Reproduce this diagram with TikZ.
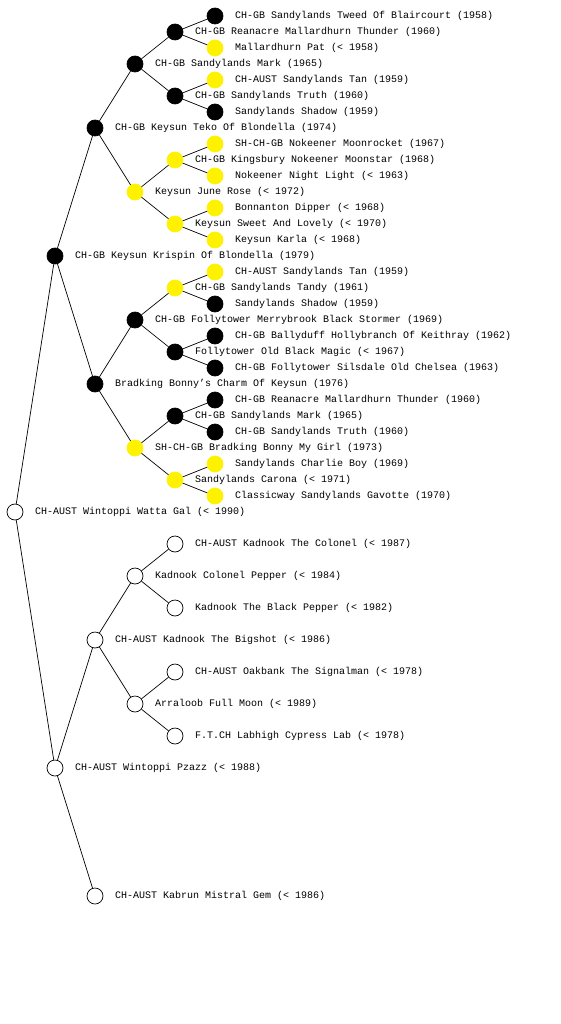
\documentclass[tikz,border=0pt]{standalone}
\usepackage{fontspec}
\newfontfamily\lbfont{Liberation Mono}
\begin{document}
\begin{tikzpicture}[x=1pt,y=-1pt,
  pn/.style={circle,draw=black,line width=0.7pt,minimum size=16pt,inner sep=0pt,fill=white},
  blk/.style={pn,fill=black},
  ylw/.style={pn,fill=yellow,draw=yellow},
  wht/.style={pn},
  lbl/.style={anchor=west,inner sep=0pt,font=\lbfont\fontsize{10pt}{12pt}\selectfont},
  edge/.style={line width=0.7pt,black}]
\useasboundingbox (0,0) rectangle (560,1024);
% generation 0
\node[wht] (n1) at (15,512) {};
% generation 1
\node[blk] (n2) at (55,256) {};
\node[wht] (n3) at (55,768) {};
% generation 2
\node[blk] (n4) at (95,128) {};
\node[blk] (n5) at (95,384) {};
\node[wht] (n6) at (95,640) {};
\node[wht] (n7) at (95,896) {};
% generation 3
\node[blk] (n8) at (135,64) {};
\node[ylw] (n9) at (135,192) {};
\node[blk] (n10) at (135,320) {};
\node[ylw] (n11) at (135,448) {};
\node[wht] (n12) at (135,576) {};
\node[wht] (n13) at (135,704) {};
% generation 4
\node[blk] (n16) at (175,32) {};
\node[blk] (n17) at (175,96) {};
\node[ylw] (n18) at (175,160) {};
\node[ylw] (n19) at (175,224) {};
\node[ylw] (n20) at (175,288) {};
\node[blk] (n21) at (175,352) {};
\node[blk] (n22) at (175,416) {};
\node[ylw] (n23) at (175,480) {};
\node[wht] (n24) at (175,544) {};
\node[wht] (n25) at (175,608) {};
\node[wht] (n26) at (175,672) {};
\node[wht] (n27) at (175,736) {};
% generation 5
\node[blk] (n32) at (215,16) {};
\node[ylw] (n33) at (215,48) {};
\node[ylw] (n34) at (215,80) {};
\node[blk] (n35) at (215,112) {};
\node[ylw] (n36) at (215,144) {};
\node[ylw] (n37) at (215,176) {};
\node[ylw] (n38) at (215,208) {};
\node[ylw] (n39) at (215,240) {};
\node[ylw] (n40) at (215,272) {};
\node[blk] (n41) at (215,304) {};
\node[blk] (n42) at (215,336) {};
\node[blk] (n43) at (215,368) {};
\node[blk] (n44) at (215,400) {};
\node[blk] (n45) at (215,432) {};
\node[ylw] (n46) at (215,464) {};
\node[ylw] (n47) at (215,496) {};
% connectors
\foreach \p/\c in {1/2,1/3,2/4,2/5,3/6,3/7,4/8,4/9,5/10,5/11,6/12,6/13,
  8/16,8/17,9/18,9/19,10/20,10/21,11/22,11/23,12/24,12/25,13/26,13/27,
  16/32,16/33,17/34,17/35,18/36,18/37,19/38,19/39,20/40,20/41,21/42,21/43,22/44,22/45,23/46,23/47}
  \draw[edge] (n\p) -- (n\c);
% labels
\node[lbl] (l1) at (35,512) {CH-AUST Wintoppi Watta Gal (< 1990)};
\node[lbl] (l2) at (75,256) {CH-GB Keysun Krispin Of Blondella (1979)};
\node[lbl] (l3) at (75,768) {CH-AUST Wintoppi Pzazz (< 1988)};
\node[lbl] (l4) at (115,128) {CH-GB Keysun Teko Of Blondella (1974)};
\node[lbl] (l5) at (115,384) {Bradking Bonny’s Charm Of Keysun (1976)};
\node[lbl] (l6) at (115,640) {CH-AUST Kadnook The Bigshot (< 1986)};
\node[lbl] (l7) at (115,896) {CH-AUST Kabrun Mistral Gem (< 1986)};
\node[lbl] (l8) at (155,64) {CH-GB Sandylands Mark (1965)};
\node[lbl] (l9) at (155,192) {Keysun June Rose (< 1972)};
\node[lbl] (l10) at (155,320) {CH-GB Follytower Merrybrook Black Stormer (1969)};
\node[lbl] (l11) at (155,448) {SH-CH-GB Bradking Bonny My Girl (1973)};
\node[lbl] (l12) at (155,576) {Kadnook Colonel Pepper (< 1984)};
\node[lbl] (l13) at (155,704) {Arraloob Full Moon (< 1989)};
\node[lbl] (l16) at (195,32) {CH-GB Reanacre Mallardhurn Thunder (1960)};
\node[lbl] (l17) at (195,96) {CH-GB Sandylands Truth (1960)};
\node[lbl] (l18) at (195,160) {CH-GB Kingsbury Nokeener Moonstar (1968)};
\node[lbl] (l19) at (195,224) {Keysun Sweet And Lovely (< 1970)};
\node[lbl] (l20) at (195,288) {CH-GB Sandylands Tandy (1961)};
\node[lbl] (l21) at (195,352) {Follytower Old Black Magic (< 1967)};
\node[lbl] (l22) at (195,416) {CH-GB Sandylands Mark (1965)};
\node[lbl] (l23) at (195,480) {Sandylands Carona (< 1971)};
\node[lbl] (l24) at (195,544) {CH-AUST Kadnook The Colonel (< 1987)};
\node[lbl] (l25) at (195,608) {Kadnook The Black Pepper (< 1982)};
\node[lbl] (l26) at (195,672) {CH-AUST Oakbank The Signalman (< 1978)};
\node[lbl] (l27) at (195,736) {F.T.CH Labhigh Cypress Lab (< 1978)};
\node[lbl] (l32) at (235,16) {CH-GB Sandylands Tweed Of Blaircourt (1958)};
\node[lbl] (l33) at (235,48) {Mallardhurn Pat (< 1958)};
\node[lbl] (l34) at (235,80) {CH-AUST Sandylands Tan (1959)};
\node[lbl] (l35) at (235,112) {Sandylands Shadow (1959)};
\node[lbl] (l36) at (235,144) {SH-CH-GB Nokeener Moonrocket (1967)};
\node[lbl] (l37) at (235,176) {Nokeener Night Light (< 1963)};
\node[lbl] (l38) at (235,208) {Bonnanton Dipper (< 1968)};
\node[lbl] (l39) at (235,240) {Keysun Karla (< 1968)};
\node[lbl] (l40) at (235,272) {CH-AUST Sandylands Tan (1959)};
\node[lbl] (l41) at (235,304) {Sandylands Shadow (1959)};
\node[lbl] (l42) at (235,336) {CH-GB Ballyduff Hollybranch Of Keithray (1962)};
\node[lbl] (l43) at (235,368) {CH-GB Follytower Silsdale Old Chelsea (1963)};
\node[lbl] (l44) at (235,400) {CH-GB Reanacre Mallardhurn Thunder (1960)};
\node[lbl] (l45) at (235,432) {CH-GB Sandylands Truth (1960)};
\node[lbl] (l46) at (235,464) {Sandylands Charlie Boy (1969)};
\node[lbl] (l47) at (235,496) {Classicway Sandylands Gavotte (1970)};
\end{tikzpicture}
\end{document}
